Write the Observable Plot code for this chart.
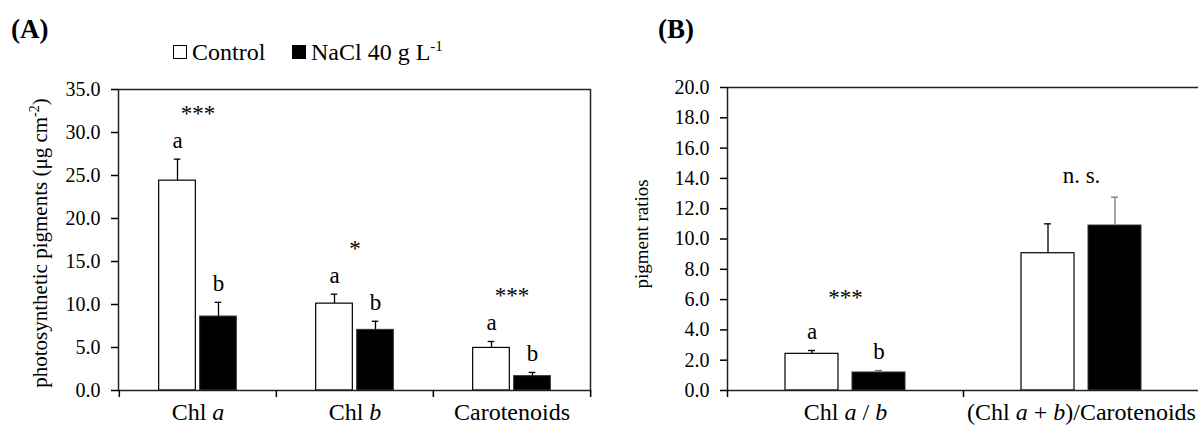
<!DOCTYPE html>
<html><head><meta charset="utf-8">
<script src="https://cdn.jsdelivr.net/npm/d3@7"></script>
<script src="https://cdn.jsdelivr.net/npm/@observablehq/plot@0.6"></script>
<style>
html,body{margin:0;padding:0;background:#fff;overflow:hidden;}
#wrap{position:relative;width:1198px;height:430px;overflow:hidden;background:#fff;}
#wrap svg{position:absolute;top:0;}
</style></head><body><div id="wrap"></div>
<script>
// ---------- Panel A data ----------
const categoriesA = ["Chl a", "Chl b", "Carotenoids"];
const controlA = [24.4, 10.1, 4.95];
const controlErrA = [2.5, 1.1, 0.75];
const naclA = [8.6, 7.05, 1.67];
const naclErrA = [1.65, 1.0, 0.43];
const lettersControlA = ["a", "a", "a"];
const lettersNaclA = ["b", "b", "b"];
const sigA = ["***", "*", "***"];
const yTicksA = [0, 5, 10, 15, 20, 25, 30, 35];

// ---------- Panel B data ----------
const categoriesB = ["Chl a / b", "(Chl a + b)/Carotenoids"];
const controlB = [2.42, 9.06];
const controlErrB = [0.22, 1.94];
const naclB = [1.19, 10.89];
const naclErrB = [0.13, 1.87];
const lettersControlB = ["a", ""];
const lettersNaclB = ["b", ""];
const sigB = ["***", "n. s."];
const yTicksB = [0, 2, 4, 6, 8, 10, 12, 14, 16, 18, 20];

const treatments = ["Control", "NaCl 40 g L-1"];
const FONT = '"Liberation Serif","Times New Roman",serif';

function buildRows(cats, ctrl, ctrlErr, nacl, naclErr, lc, ln) {
  return cats.flatMap((c, i) => [
    {category: c, treatment: treatments[0], value: ctrl[i], err: ctrlErr[i], letter: lc[i]},
    {category: c, treatment: treatments[1], value: nacl[i], err: naclErr[i], letter: ln[i]}
  ]);
}

function panel(cfg) {
  const {cats, rows, sig, yTicks, width, mL, mR, mT, mB, barW, gap, capW, letterDy, sigDy, nsDy, naclErrColor} = cfg;
  const bw = (width - mL - mR) / cats.length;
  const groupLeft = (bw - 2 * barW - gap) / 2;
  const off = (barW + gap) / 2;
  const ctrlRows = rows.filter(d => d.treatment === treatments[0]);
  const naclRows = rows.filter(d => d.treatment === treatments[1]);
  const cC = groupLeft + barW / 2;
  const cN = groupLeft + barW + gap + barW / 2;
  const top = d => d.value + d.err;
  const sigRows = cats.map((c, i) => ({category: c, sig: sig[i],
    y: d3.max(rows.filter(r => r.category === c), top)}));
  const marks = [
    Plot.barY(ctrlRows, {x: "category", y: "value", fill: "white", stroke: "black", strokeWidth: 1.2,
      insetLeft: groupLeft, insetRight: bw - groupLeft - barW}),
    Plot.barY(naclRows, {x: "category", y: "value", fill: "black", stroke: "#333", strokeWidth: 1,
      insetLeft: groupLeft + barW + gap, insetRight: groupLeft}),
    Plot.ruleX(ctrlRows, {x: "category", y1: "value", y2: top, dx: -off, stroke: "black", strokeWidth: 1.3}),
    Plot.ruleX(naclRows, {x: "category", y1: "value", y2: top, dx: off, stroke: naclErrColor, strokeWidth: 1.3}),
    Plot.tickY(ctrlRows, {x: "category", y: top, stroke: "black", strokeWidth: 1.3,
      insetLeft: cC - capW / 2, insetRight: bw - cC - capW / 2}),
    Plot.tickY(naclRows, {x: "category", y: top, stroke: naclErrColor, strokeWidth: 1.3,
      insetLeft: cN - capW / 2, insetRight: bw - cN - capW / 2}),
    Plot.text(ctrlRows, {x: "category", y: top, text: "letter", dx: -off, dy: letterDy, fontSize: 23}),
    Plot.text(naclRows, {x: "category", y: top, text: "letter", dx: off, dy: letterDy, fontSize: 23}),
    Plot.text(sigRows.filter(d => d.sig.startsWith("*")), {x: "category", y: "y", text: "sig", dy: sigDy, fontSize: 23}),
    Plot.text(sigRows.filter(d => !d.sig.startsWith("*")), {x: "category", y: "y", text: "sig", dy: nsDy, fontSize: 23}),
    Plot.frame({stroke: "#222", strokeWidth: 1.5}),
    Plot.axisY({ticks: yTicks, tickFormat: d3.format(".1f"), tickSize: 7, tickPadding: 11, fontSize: 20, label: null, strokeWidth: 1.5}),
    Plot.axisX({tickSize: 0, tickPadding: 12, fontSize: 24, label: null}),
    Plot.axisX({tickSize: 7, dx: -bw / 2, tickFormat: () => "", label: null, strokeWidth: 1.5}),
    Plot.axisX({ticks: [cats[cats.length - 1]], tickSize: 7, dx: bw / 2, tickFormat: () => "", label: null, strokeWidth: 1.5})
  ];
  const svg = Plot.plot({
    width, height: 430,
    marginLeft: mL, marginRight: mR, marginTop: mT, marginBottom: mB,
    x: {domain: cats, padding: 0, type: "band"},
    y: {domain: [yTicks[0], yTicks[yTicks.length - 1]]},
    style: {fontFamily: FONT, fontSize: "20px", color: "black", background: "transparent", overflow: "visible"},
    marks
  });
  // italic a / b in category labels
  d3.select(svg).selectAll('g[aria-label="x-axis tick label"] text').each(function () {
    const t = this.textContent;
    if (!t) return;
    const sel = d3.select(this);
    sel.text(null);
    t.split(/(\b[ab]\b)/).forEach(part => {
      if (!part) return;
      const ts = sel.append("tspan").text(part);
      if (/^[ab]$/.test(part)) ts.attr("font-style", "italic");
    });
  });
  return svg;
}

const wrap = document.getElementById("wrap");

// Panel A
const svgA = panel({
  cats: categoriesA,
  rows: buildRows(categoriesA, controlA, controlErrA, naclA, naclErrA, lettersControlA, lettersNaclA),
  sig: sigA, yTicks: yTicksA,
  width: 600, mL: 118, mR: 10, mT: 89, mB: 40,
  barW: 37, gap: 4, capW: 7, letterDy: -19, sigDy: -46, nsDy: -22, naclErrColor: "black"
});
svgA.style.left = "0px";
wrap.appendChild(svgA);

// Panel B
const svgB = panel({
  cats: categoriesB,
  rows: buildRows(categoriesB, controlB, controlErrB, naclB, naclErrB, lettersControlB, lettersNaclB),
  sig: sigB, yTicks: yTicksB,
  width: 601, mL: 127, mR: 2, mT: 87, mB: 40,
  barW: 53, gap: 14, capW: 7, letterDy: -19, sigDy: -53, nsDy: -22, naclErrColor: "#777"
});
svgB.style.left = "600px";
wrap.appendChild(svgB);

// Panel labels, titles, legend
const A = d3.select(svgA), B = d3.select(svgB);
A.append("text").attr("x", 11).attr("y", 38).attr("text-anchor", "start").attr("font-size", 27)
  .attr("font-weight", "bold").attr("fill", "black").text("(A)");
B.append("text").attr("x", 58).attr("y", 38).attr("text-anchor", "start").attr("font-size", 27)
  .attr("font-weight", "bold").attr("fill", "black").text("(B)");

const ytA = A.append("text").attr("transform", "translate(47,243) rotate(-90)")
  .attr("text-anchor", "middle").attr("font-size", 21).attr("fill", "black");
ytA.append("tspan").text("photosynthetic pigments (μg cm");
ytA.append("tspan").attr("font-size", 14).attr("dy", -8).text("-2");
ytA.append("tspan").attr("dy", 8).text(")");

B.append("text").attr("transform", "translate(48,234) rotate(-90)")
  .attr("text-anchor", "middle").attr("font-size", 19).attr("fill", "black").text("pigment ratios");

// Legend
const lg = A.append("g").attr("text-anchor", "start");
lg.append("rect").attr("x", 173.5).attr("y", 45.5).attr("width", 13).attr("height", 13)
  .attr("fill", "white").attr("stroke", "black").attr("stroke-width", 1);
lg.append("text").attr("x", 192).attr("y", 60).attr("font-size", 24).attr("fill", "black").text("Control");
lg.append("rect").attr("x", 292).attr("y", 45).attr("width", 14).attr("height", 14).attr("fill", "black");
const lt = lg.append("text").attr("x", 311).attr("y", 60).attr("font-size", 24).attr("fill", "black");
lt.append("tspan").text("NaCl 40 g L");
lt.append("tspan").attr("font-size", 15).attr("dy", -9).text("-1");
</script></body></html>
